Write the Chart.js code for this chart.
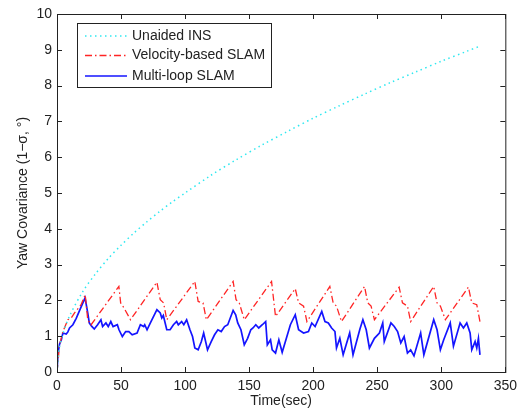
<!DOCTYPE html>
<html lang="en">
<head>
    <meta charset="UTF-8">
    <title>Yaw Covariance</title>
    <script src="https://cdn.jsdelivr.net/npm/chart.js@4.4.0/dist/chart.umd.min.js"></script>
    <style>
        body { margin: 0; background: #fff; }
        canvas { display: block; }
    </style>
</head>
<body>
    <canvas id="yawChart" width="523" height="414"></canvas>

    <script>
        // Unaided INS
        const insTime = [0, 2, 5, 10, 20, 30, 40, 50, 60, 70, 80, 90, 100, 120, 140, 160, 180, 200, 220, 240, 260, 280, 300, 320, 330];
        const insYaw = [0, 0.7, 1.12, 1.58, 2.24, 2.74, 3.17, 3.54, 3.88, 4.19, 4.48, 4.75, 5.0, 5.49, 5.93, 6.34, 6.72, 7.09, 7.43, 7.76, 8.08, 8.38, 8.68, 8.96, 9.1];

        // Velocity-based SLAM (red dash-dot)
        const velTime = [0, 2, 4.6, 8.5, 11, 13.7, 18.8, 22, 24, 26.6, 48.3, 49.7, 52.3, 57.4, 78, 80.6, 83.2, 85.7, 107.6, 110.2, 114, 116.6, 137.5, 139.8, 142.3, 146.2, 167.5, 170.6, 186, 188.6, 192.5, 195.1, 213, 215.6, 218.2, 222.1, 240.1, 242.6, 245.2, 247.8, 267.1, 269.7, 273.6, 276.1, 294.1, 296.7, 299.3, 303.2, 321.2, 323.8, 327.7, 330.2];
        const velYaw = [0, 0.75, 1.13, 1.46, 1.5, 1.65, 1.88, 2.16, 1.46, 1.32, 2.39, 1.93, 1.79, 1.46, 2.51, 2.02, 1.93, 1.46, 2.53, 1.97, 1.93, 1.46, 2.53, 2.02, 1.93, 1.46, 2.53, 1.55, 2.33, 1.93, 1.84, 1.41, 2.39, 1.93, 1.84, 1.41, 2.39, 1.93, 1.84, 1.46, 2.37, 1.93, 1.84, 1.41, 2.39, 1.93, 1.84, 1.46, 2.37, 1.93, 1.88, 1.41];

        // Multi-loop SLAM (blue solid)
        const loopTime = [0, 0.8, 2, 3.4, 4.6, 7.2, 8.5, 9.8, 12.4, 15, 18, 21.9, 24, 25.2, 27, 29.1, 31.7, 34.3, 35.6, 38.2, 40, 42, 43.8, 47.1, 48.4, 51, 53.6, 56.1, 58.7, 62.5, 65.1, 67.7, 68.5, 70.3, 72.9, 78, 80.6, 81.8, 83, 85.7, 88.3, 90.9, 93.4, 94.7, 97.3, 99, 101.2, 103.8, 105.8, 107.6, 110.2, 112.7, 114.5, 117.5, 120.4, 123, 125.6, 128.2, 130.8, 133.3, 137.5, 139.5, 141.1, 143.6, 146.2, 148.8, 151.3, 153, 155.2, 157.5, 160.3, 162.9, 164.2, 166.7, 168, 170.6, 173.2, 175.8, 182.2, 186, 188.6, 192.5, 196.3, 198.9, 201.5, 206.7, 209.2, 211.8, 214.4, 217, 218.2, 220.8, 223.4, 228.5, 231.1, 236.5, 238.8, 241.4, 243.9, 247.8, 251.7, 254.3, 255.5, 260.7, 263.3, 265.9, 268.4, 271, 273.6, 276.1, 278.7, 283.9, 286.4, 294.1, 296.7, 299.3, 301.9, 307, 308.3, 309.5, 314.7, 317.3, 319.9, 322.5, 323.8, 326.4, 327.7, 329, 330.2];
        const loopYaw = [0, 0.53, 0.78, 0.9, 1.09, 1.06, 1.12, 1.23, 1.32, 1.5, 1.75, 2.07, 1.65, 1.37, 1.28, 1.2, 1.32, 1.46, 1.27, 1.37, 1.27, 1.41, 1.27, 1.32, 1.18, 0.99, 1.13, 1.13, 1.04, 1.09, 1.32, 1.27, 1.32, 1.18, 1.37, 1.74, 1.65, 1.51, 1.58, 1.18, 1.18, 1.32, 1.41, 1.32, 1.41, 1.32, 1.46, 1.18, 0.99, 0.67, 0.62, 0.85, 1.09, 0.62, 0.85, 1.04, 1.18, 1.13, 1.27, 1.32, 1.72, 1.6, 1.37, 1.18, 0.76, 0.94, 1.18, 1.23, 1.32, 1.23, 1.32, 1.41, 0.76, 0.9, 0.62, 0.53, 0.9, 0.55, 1.32, 1.6, 1.18, 1.09, 1.13, 1.37, 1.27, 1.69, 1.41, 1.37, 1.23, 1.13, 0.67, 0.94, 0.48, 1.09, 0.48, 1.2, 1.46, 1.18, 0.67, 0.94, 1.09, 1.37, 0.85, 1.37, 1.27, 1.13, 0.81, 0.99, 0.53, 0.62, 0.45, 1.09, 0.48, 1.46, 1.18, 0.62, 0.9, 1.37, 1.04, 0.72, 1.37, 1.23, 1.37, 1.09, 0.62, 0.85, 0.67, 0.94, 0.48];

        const xTicks = [0, 50, 100, 150, 200, 250, 300, 350];
        const yTicks = [0, 1, 2, 3, 4, 5, 6, 7, 8, 9, 10];

        const toPoints = (xs, ys) => xs.map((x, i) => ({ x: x, y: ys[i] }));
        const FONT = 'Liberation Sans, Arial, Helvetica, sans-serif';

        // MATLAB style box with inward ticks on all four sides
        const boxPlugin = {
            id: 'boxPlugin',
            afterDatasetsDraw(chart) {
                const { ctx, chartArea: a, scales } = chart;
                ctx.save();
                ctx.strokeStyle = '#222';
                ctx.lineWidth = 1;
                ctx.strokeRect(a.left + 0.5, a.top + 0.5, a.width, a.height);
                ctx.beginPath();
                xTicks.forEach(v => {
                    const px = Math.round(scales.x.getPixelForValue(v)) + 0.5;
                    ctx.moveTo(px, a.bottom); ctx.lineTo(px, a.bottom - 5);
                    ctx.moveTo(px, a.top); ctx.lineTo(px, a.top + 5);
                });
                yTicks.forEach(v => {
                    const py = Math.round(scales.y.getPixelForValue(v)) + 0.5;
                    ctx.moveTo(a.left, py); ctx.lineTo(a.left + 5, py);
                    ctx.moveTo(a.right, py); ctx.lineTo(a.right - 5, py);
                });
                ctx.stroke();
                ctx.restore();
            }
        };

        // legend box in the upper left, drawn from the dataset styles
        const legendPlugin = {
            id: 'legendPlugin',
            afterDraw(chart) {
                const ctx = chart.ctx;
                const bx = 77, by = 23, bw = 194, bh = 64;
                ctx.save();
                ctx.fillStyle = '#fff';
                ctx.fillRect(bx, by, bw, bh);
                ctx.strokeStyle = '#222';
                ctx.lineWidth = 1;
                ctx.strokeRect(bx + 0.5, by + 0.5, bw, bh);
                const rows = [36, 55.5, 76];
                chart.data.datasets.forEach((ds, i) => {
                    const y = rows[i];
                    ctx.beginPath();
                    ctx.strokeStyle = ds.borderColor;
                    ctx.lineWidth = ds.borderWidth;
                    ctx.setLineDash(ds.borderDash || []);
                    ctx.moveTo(85, y);
                    ctx.lineTo(127, y);
                    ctx.stroke();
                    ctx.setLineDash([]);
                    ctx.fillStyle = '#222';
                    ctx.font = '14px ' + FONT;
                    ctx.textBaseline = 'middle';
                    ctx.fillText(ds.label, 132, y);
                });
                ctx.restore();
            }
        };

        const chart = new Chart(document.getElementById('yawChart'), {
            type: 'line',
            data: {
                datasets: [
                    {
                        label: 'Unaided INS',
                        data: toPoints(insTime, insYaw),
                        borderColor: '#30e8f0',
                        borderWidth: 1.5,
                        borderDash: [1.5, 3.5],
                        pointRadius: 0,
                        tension: 0.3
                    },
                    {
                        label: 'Velocity-based SLAM',
                        data: toPoints(velTime, velYaw),
                        borderColor: '#ff2424',
                        borderWidth: 1.3,
                        borderDash: [7, 3, 1.5, 3],
                        pointRadius: 0,
                        tension: 0
                    },
                    {
                        label: 'Multi-loop SLAM',
                        data: toPoints(loopTime, loopYaw),
                        borderColor: '#1414ff',
                        borderWidth: 1.7,
                        pointRadius: 0,
                        tension: 0
                    }
                ]
            },
            options: {
                responsive: false,
                animation: false,
                layout: { padding: { top: 14, right: 12, left: 0, bottom: 0 } },
                plugins: {
                    legend: { display: false },
                    tooltip: { enabled: false }
                },
                scales: {
                    x: {
                        type: 'linear',
                        min: 0,
                        max: 350,
                        afterBuildTicks: s => { s.ticks = xTicks.map(v => ({ value: v })); },
                        afterFit: s => { s.height = 42; },
                        grid: { display: false, drawTicks: false },
                        border: { display: false },
                        ticks: { color: '#222', padding: 6, maxRotation: 0, font: { family: FONT, size: 14 } },
                        title: {
                            display: true,
                            text: 'Time(sec)',
                            color: '#222',
                            padding: { top: 0, bottom: 4 },
                            font: { family: FONT, size: 14 }
                        }
                    },
                    y: {
                        min: 0,
                        max: 10,
                        afterBuildTicks: s => { s.ticks = yTicks.map(v => ({ value: v })); },
                        afterFit: s => { s.width = 57; },
                        grid: { display: false, drawTicks: false },
                        border: { display: false },
                        ticks: { color: '#222', padding: 5, font: { family: FONT, size: 14 } },
                        title: {
                            display: true,
                            text: 'Yaw Covariance (1\u2212\u03c3, \u00b0)',
                            color: '#222',
                            padding: { top: 15, bottom: 0 },
                            font: { family: FONT, size: 14 }
                        }
                    }
                }
            },
            plugins: [boxPlugin, legendPlugin]
        });
    </script>
</body>
</html>
